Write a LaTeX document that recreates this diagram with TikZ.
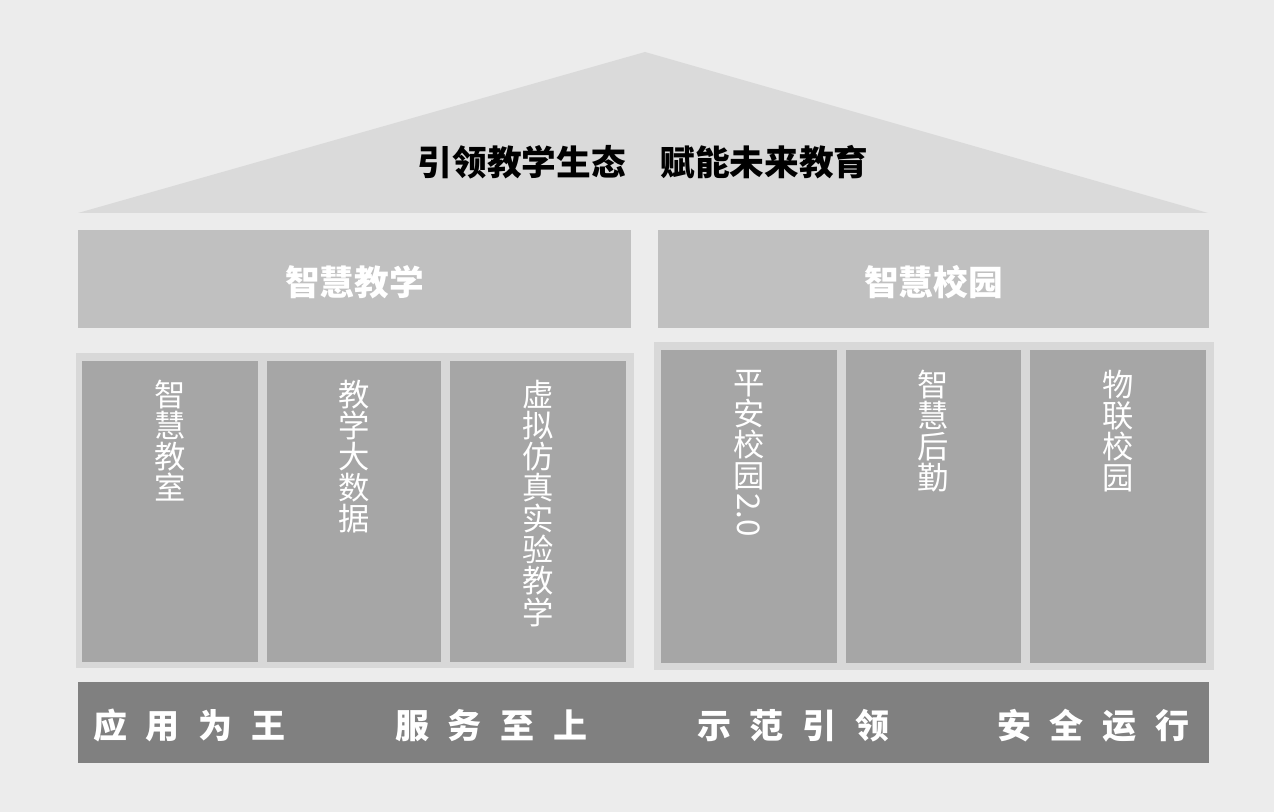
\documentclass[tikz,border=0pt]{standalone}
\usepackage{fontspec}
\setmainfont{Noto Sans CJK SC}
\usetikzlibrary{positioning}
\definecolor{bggray}{RGB}{236,236,236}
\definecolor{roofgray}{RGB}{218,218,218}
\definecolor{headgray}{RGB}{192,192,192}
\definecolor{framegray}{RGB}{216,216,216}
\definecolor{pillargray}{RGB}{166,166,166}
\definecolor{bargray}{RGB}{128,128,128}
\newcommand{\gap}{\hspace{14pt}}

\begin{document}
\begin{tikzpicture}[x=0.75pt,y=0.75pt,yscale=-1,xscale=1,
  headtext/.style={inner sep=0pt,text=white,font=\fontsize{26}{28}\selectfont\bfseries},
  pillartext/.style={anchor=north,inner sep=0pt,align=center,text=white,font=\fontsize{23.5}{23.3}\selectfont},
  bartext/.style={anchor=west,inner sep=0pt,text=white,font=\fontsize{25.5}{27}\selectfont\bfseries}]
%set diagram size 1274 x 812
\path [fill=bggray] (0,0) rectangle (1274,812);

%Shape: Triangle (roof)
\draw [fill=roofgray, draw=none] (645,52) -- (1208,213) -- (78,213) -- cycle ;
% Text Node
\node [inner sep=0pt, font=\fontsize{26}{28}\selectfont\bfseries] (roof) at (643,162) {引领教学生态　赋能未来教育};

%Shape: Rectangle (left head)
\draw [fill=headgray, draw=none] (78,230) rectangle (631,328) ;
%Shape: Rectangle (right head)
\draw [fill=headgray, draw=none] (658,230) rectangle (1209,328) ;
% Text Node
\node [headtext] (teach) at (354.5,282) {智慧教学};
% Text Node
\node [headtext] (campus) at (933.5,282) {智慧校园};

%Shape: Rectangle (left frame)
\draw [fill=framegray, draw=none] (76,353) rectangle (634,668) ;
%Shape: Rectangle (right frame)
\draw [fill=framegray, draw=none] (654,342) rectangle (1214,670) ;
%Shape: Rectangles (pillars)
\foreach \xa/\xb in {82/258, 267/441, 450/626}
  \draw [fill=pillargray, draw=none] (\xa,361) rectangle (\xb,662) ;
\foreach \xa/\xb in {661/837, 846/1021, 1030/1206}
  \draw [fill=pillargray, draw=none] (\xa,350) rectangle (\xb,663) ;

% Text Node
\node [pillartext] (room) at (170,380) {智\\慧\\教\\室};
% Text Node
\node [pillartext] (data) at (354,380) {教\\学\\大\\数\\据};
% Text Node
\node [pillartext] (virt) at (538,380) {虚\\拟\\仿\\真\\实\\验\\教\\学};
% Text Node
\node [pillartext] (safe) at (749,370) {平\\安\\校\\园};
\node [inner sep=0pt, text=white, font=\fontsize{23.5}{23.3}\selectfont, rotate=-90, anchor=west] (ver) at ([yshift=2pt]safe.south) {2.0};
% Text Node
\node [pillartext] (logi) at (933.5,370) {智\\慧\\后\\勤};
% Text Node
\node [pillartext] (iot) at (1118,370) {物\\联\\校\\园};

%Shape: Rectangle (base bar)
\draw [fill=bargray, draw=none] (78,682) rectangle (1209,763) ;
% Text Node
\node [bartext] (apply) at (93,726) {应\gap 用\gap 为\gap 王};
% Text Node
\node [bartext] (serve) at (395,726) {服\gap 务\gap 至\gap 上};
% Text Node
\node [bartext] (lead) at (697,726) {示\gap 范\gap 引\gap 领};
% Text Node
\node [bartext] (run) at (997,726) {安\gap 全\gap 运\gap 行};
\end{tikzpicture}
\end{document}
